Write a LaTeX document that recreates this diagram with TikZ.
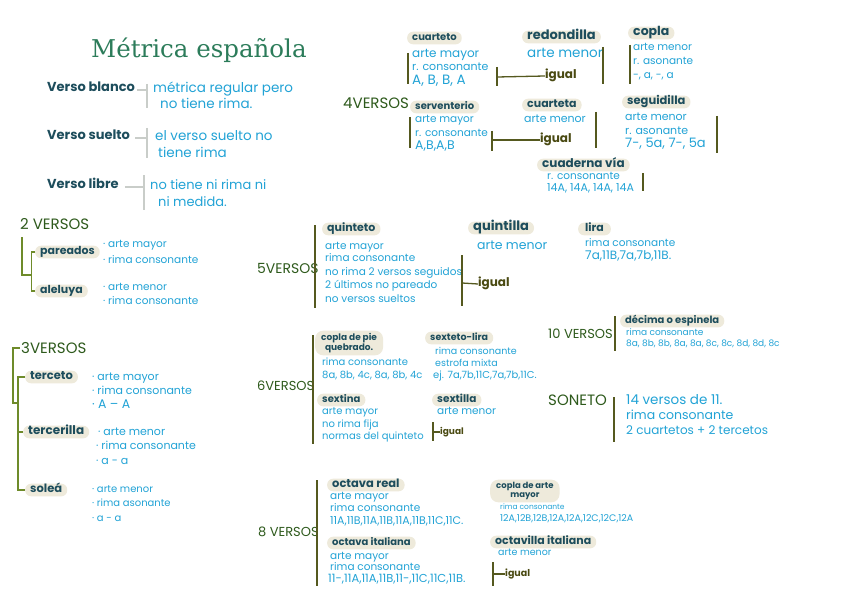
\documentclass[tikz,border=0pt]{standalone}
\usepackage{fontspec}
\setmainfont{Poppins}
\newfontfamily\titlefont{DejaVu Serif}
\newcommand\fsz[1]{\fontsize{#1}{#1}\selectfont}
\definecolor{bodyC}{HTML}{22A3D6}
\definecolor{headC}{HTML}{1D4D5C}
\definecolor{verC}{HTML}{2E5A1C}
\definecolor{pillC}{HTML}{EEEADB}
\definecolor{barC}{HTML}{55591F}
\definecolor{igC}{HTML}{4A4A12}
\definecolor{treeC}{HTML}{6E8B2A}
\definecolor{grayC}{HTML}{C9CDC9}
\definecolor{titleC}{HTML}{2C7C5A}
\begin{document}
\begin{tikzpicture}[x=1pt,y=-1pt,
  txt/.style={anchor=west,inner sep=0pt,text=bodyC,font=\fsz{10.5},text height=1.3ex,text depth=.35ex},
  pill/.style={anchor=west,fill=pillC,rounded corners=6pt,inner xsep=5pt,inner ysep=1.8pt,minimum height=12.5pt,text=headC,font=\bfseries\fsz{10},text height=1.3ex,text depth=.35ex},
  pill2/.style={anchor=west,fill=pillC,rounded corners=8pt,inner xsep=6pt,inner ysep=2.5pt,align=center,text=headC,font=\bfseries\fontsize{8.5}{9}\selectfont},
  vlab/.style={anchor=west,inner sep=0pt,text=verC,font=\fsz{15},text height=1.3ex,text depth=0pt},
  hlab/.style={anchor=west,inner sep=0pt,text=headC,font=\bfseries\fsz{13},text height=1.3ex,text depth=.35ex},
  ig/.style={anchor=west,inner sep=0pt,text=igC,font=\bfseries\fsz{11},text height=1.3ex,text depth=.35ex},
  bar/.style={draw=barC,line width=1.3pt},
  treeline/.style={draw=treeC,line width=1.3pt},
  gline/.style={draw=grayC,line width=2.5pt}]
\useasboundingbox (0,0) rectangle (848,599);
\fill[white] (0,0) rectangle (848,599);

% title
\node[anchor=west,inner sep=0pt,text=titleC,font=\titlefont\fsz{24.5}] (title) at (91,50) {Métrica española};

% verso blanco / suelto / libre
\node[hlab] (vb) at (47,89) {Verso blanco};
\node[txt,font=\fsz{13.5}] (vb1) at (153,90) {métrica regular pero};
\node[txt,font=\fsz{13.5}] (vb2) at (160,106) {no tiene rima.};
\coordinate (vbt) at (147,84); \coordinate (vbb) at (147,108);
\draw[gline] (vb.east) ++(2,1) -- (147,90);
\draw[gline] (vbt) -- (vbb);

\node[hlab] (vs) at (47,137) {Verso suelto};
\node[txt,font=\fsz{13.5}] (vs1) at (155,138) {el verso suelto no};
\node[txt,font=\fsz{13.5}] (vs2) at (158,155) {tiene rima};
\coordinate (vst) at (147,128); \coordinate (vsb) at (147,158);
\draw[gline] (vs.east) ++(5,1) -- (147,138);
\draw[gline] (vst) -- (vsb);

\node[hlab] (vl) at (47,186) {Verso libre};
\node[txt,font=\fsz{13}] (vl1) at (150,187) {no tiene ni rima ni};
\node[txt,font=\fsz{13}] (vl2) at (158,204) {ni medida.};
\coordinate (vlt) at (144,175); \coordinate (vlb) at (144,210);
\draw[gline] (vl.east) ++(6,1) -- (144,187);
\draw[gline] (vlt) -- (vlb);

% 2 versos
\node[vlab] (v2) at (20,226) {2 VERSOS};
\node[pill,font=\bfseries\fsz{11}] (par) at (35,252) {pareados};
\node[pill,font=\bfseries\fsz{11}] (ale) at (35,291) {aleluya};
\draw[treeline] (22,237) -- (22,275) -- (31.7,275);
\draw[treeline] (par.west) -- (31.7,252) -- (31.7,291) -- (ale.west);
\node[txt] (p1) at (103,245) {· arte mayor};
\node[txt] (p2) at (103,261) {· rima consonante};
\node[txt] (a1) at (103,288) {· arte menor};
\node[txt] (a2) at (103,302) {· rima consonante};

% 3 versos
\node[vlab] (v3) at (21,350) {3VERSOS};
\node[pill,font=\bfseries\fsz{11.5}] (ter) at (25,377) {terceto};
\node[pill,font=\bfseries\fsz{12}] (tcl) at (23,432) {tercerilla};
\node[pill,font=\bfseries\fsz{11.5}] (sol) at (25,490) {soleá};
\draw[treeline] (v3.west) ++(-1,-2) -- (13,348) -- (13,403) -- (18,403);
\draw[treeline] (ter.west) -- (18,377) -- (18,490) -- (sol.west);
\draw[treeline] (18,432) -- (tcl.west);
\node[txt,font=\fsz{11}] (t1) at (92,378) {· arte mayor};
\node[txt,font=\fsz{11}] (t2) at (92,392) {· rima consonante};
\node[txt,font=\fsz{12.5}] (t3) at (92,406) {· A – A};
\node[txt,font=\fsz{11}] (c1) at (98,433) {· arte menor};
\node[txt,font=\fsz{11}] (c2) at (96,447) {· rima consonante};
\node[txt,font=\fsz{11}] (c3) at (96,462) {· a - a};
\node[txt,font=\fsz{10}] (s1) at (92,490) {· arte menor};
\node[txt,font=\fsz{10}] (s2) at (92,504) {· rima asonante};
\node[txt,font=\fsz{10}] (s3) at (92,519) {· a - a};

% 4 versos
\node[vlab] (v4) at (343,105) {4VERSOS};
\node[pill] (cto) at (407,38) {cuarteto};
\node[txt,font=\fsz{12}] (cto1) at (412,55) {arte mayor};
\node[txt,font=\fsz{11}] (cto2) at (412,68) {r. consonante};
\node[txt,font=\fsz{13.5}] (cto3) at (412,82) {A, B, B, A};
\draw[bar] (408,53) -- (408,84);
\node[pill,font=\bfseries\fsz{13}] (red) at (522,37) {redondilla};
\node[txt,font=\fsz{13.5}] (red1) at (527,55) {arte menor};
\draw[bar] (603,47) -- (603,84);
\node[ig,font=\bfseries\fsz{12}] (ig1) at (545,76) {igual};
\draw[bar] (497,67) -- (497,86);
\draw[bar] (497,77) -- (ig1.west);
\node[pill,font=\bfseries\fsz{12.5}] (cop) at (628,33) {copla};
\node[txt] (cop1) at (633,48) {arte menor};
\node[txt] (cop2) at (633,62) {r. asonante};
\node[txt] (cop3) at (633,76) {-, a, -, a};
\draw[bar] (630,45) -- (630,84);

\node[pill] (ser) at (410,107) {serventerio};
\node[txt] (ser1) at (415,120) {arte mayor};
\node[txt] (ser2) at (415,134) {r. consonante};
\node[txt,font=\fsz{12.5}] (ser3) at (415,147) {A,B,A,B};
\draw[bar] (410,117) -- (410,148);
\node[ig,font=\bfseries\fsz{12}] (ig2) at (540,140) {igual};
\draw[bar] (492,131) -- (492,151);
\draw[bar] (492,140) -- (ig2.west);
\node[pill,font=\bfseries\fsz{11}] (cta) at (522,105) {cuarteta};
\node[txt,font=\fsz{11}] (cta1) at (524,120) {arte menor};
\draw[bar] (596,112) -- (596,148);
\node[pill,font=\bfseries\fsz{11.5}] (seg) at (622,102) {seguidilla};
\node[txt,font=\fsz{11}] (seg1) at (625,118) {arte menor};
\node[txt,font=\fsz{11}] (seg2) at (625,132) {r. asonante};
\node[txt,font=\fsz{13}] (seg3) at (625,145) {7-, 5a, 7-, 5a};
\draw[bar] (717,116) -- (717,153);
\node[pill,font=\bfseries\fsz{12}] (cv) at (537,165) {cuaderna vía};
\node[txt,font=\fsz{10.5}] (cv1) at (547,177) {r. consonante};
\node[txt,font=\fsz{11}] (cv2) at (547,189) {14A, 14A, 14A, 14A};
\draw[bar] (643,173) -- (643,191);

% 5 versos
\node[vlab,font=\fsz{14}] (v5) at (257,270) {5VERSOS};
\draw[bar] (315,225) -- (315,308);
\node[pill,font=\bfseries\fsz{11}] (qto) at (322,229) {quinteto};
\node[txt] (q1) at (325,247) {arte mayor};
\node[txt] (q2) at (325,259) {rima consonante};
\node[txt] (q3) at (325,273) {no rima 2 versos seguidos};
\node[txt] (q4) at (325,286) {2 últimos no pareado};
\node[txt] (q5) at (325,300) {no versos sueltos};
\node[pill,font=\bfseries\fsz{13}] (qla) at (468,228) {quintilla};
\node[txt,font=\fsz{12.5}] (qla1) at (477,247) {arte menor};
\node[ig,font=\bfseries\fsz{12}] (ig3) at (478,284) {igual};
\draw[bar] (462,255) -- (462,306);
\draw[bar] (462,283) -- (ig3.west);
\node[pill,font=\bfseries\fsz{11},inner xsep=7pt] (lir) at (578,229) {lira};
\node[txt] (lir1) at (585,244) {rima consonante};
\node[txt,font=\fsz{12}] (lir2) at (585,257) {7a,11B,7a,7b,11B.};

% 6 versos
\node[vlab,font=\fsz{13}] (v6) at (257,387) {6VERSOS};
\draw[bar] (313,335) -- (313,444);
\node[pill2,font=\bfseries\fontsize{9}{9}\selectfont] (cpq) at (315,343) {copla de pie\\quebrado.};
\node[txt,font=\fsz{10}] (cpq1) at (322,363) {rima consonante};
\node[txt,font=\fsz{10}] (cpq2) at (322,376) {8a, 8b, 4c, 8a, 8b, 4c};
\node[pill,font=\bfseries\fsz{9.5}] (sxl) at (425,338) {sexteto-lira};
\node[txt,font=\fsz{9.5}] (sxl1) at (435,352) {rima consonante};
\node[txt,font=\fsz{9.5}] (sxl2) at (435,364) {estrofa mixta};
\node[txt,font=\fsz{10}] (sxl3) at (433,376) {ej. 7a,7b,11C,7a,7b,11C.};
\node[pill] (sxt) at (317,400) {sextina};
\node[txt,font=\fsz{10}] (sxt1) at (322,412) {arte mayor};
\node[txt,font=\fsz{10}] (sxt2) at (322,425) {no rima fija};
\node[txt,font=\fsz{10}] (sxt3) at (322,437) {normas del quinteto};
\node[pill,font=\bfseries\fsz{10.5}] (sxa) at (432,400) {sextilla};
\node[txt] (sxa1) at (437,412) {arte menor};
\node[ig,font=\bfseries\fsz{9}] (ig4) at (440,432) {igual};
\draw[bar] (433,422) -- (433,441);
\draw[bar] (433,432) -- (ig4.west);

% 10 versos
\node[vlab,font=\fsz{13}] (v10) at (548,335) {10 VERSOS};
\draw[bar] (615,316) -- (615,351);
\node[pill,font=\bfseries\fsz{10}] (dec) at (620,321) {décima o espinela};
\node[txt,font=\fsz{9}] (dec1) at (626,333) {rima consonante};
\node[txt,font=\fsz{9}] (dec2) at (626,344) {8a, 8b, 8b, 8a, 8a, 8c, 8c, 8d, 8d, 8c};

% soneto
\node[vlab] (son) at (548,402) {SONETO};
\draw[bar] (614,397) -- (614,442);
\node[txt,font=\fsz{13.5}] (son1) at (626,402) {14 versos de 11.};
\node[txt,font=\fsz{12.5}] (son2) at (626,417) {rima consonante};
\node[txt,font=\fsz{12}] (son3) at (626,432) {2 cuartetos + 2 tercetos};

% 8 versos
\node[vlab,font=\fsz{13}] (v8) at (258,533) {8 VERSOS};
\draw[bar] (317,480) -- (317,586);
\node[pill,font=\bfseries\fsz{11.5}] (ore) at (327,485) {octava real};
\node[txt] (ore1) at (330,497) {arte mayor};
\node[txt] (ore2) at (330,509) {rima consonante};
\node[txt,font=\fsz{11}] (ore3) at (330,522) {11A,11B,11A,11B,11A,11B,11C,11C.};
\node[pill] (oit) at (327,543) {octava italiana};
\node[txt] (oit1) at (330,557) {arte mayor};
\node[txt] (oit2) at (330,568) {rima consonante};
\node[txt,font=\fsz{11.5}] (oit3) at (328,580) {11-,11A,11A,11B,11-,11C,11C,11B.};
\node[pill2] (cam) at (490,491) {copla de arte\\mayor};
\node[txt,font=\fsz{7.5}] (cam1) at (500,507) {rima consonante};
\node[txt,font=\fsz{9.5}] (cam2) at (500,519) {12A,12B,12B,12A,12A,12C,12C,12A};
\node[pill,font=\bfseries\fsz{11}] (ovi) at (490,542) {octavilla italiana};
\node[txt,font=\fsz{9.5}] (ovi1) at (498,553) {arte menor};
\node[ig,font=\bfseries\fsz{9.5}] (ig5) at (505,574) {igual};
\draw[bar] (493,562) -- (493,586);
\draw[bar] (493,574) -- (ig5.west);
\end{tikzpicture}
\end{document}
